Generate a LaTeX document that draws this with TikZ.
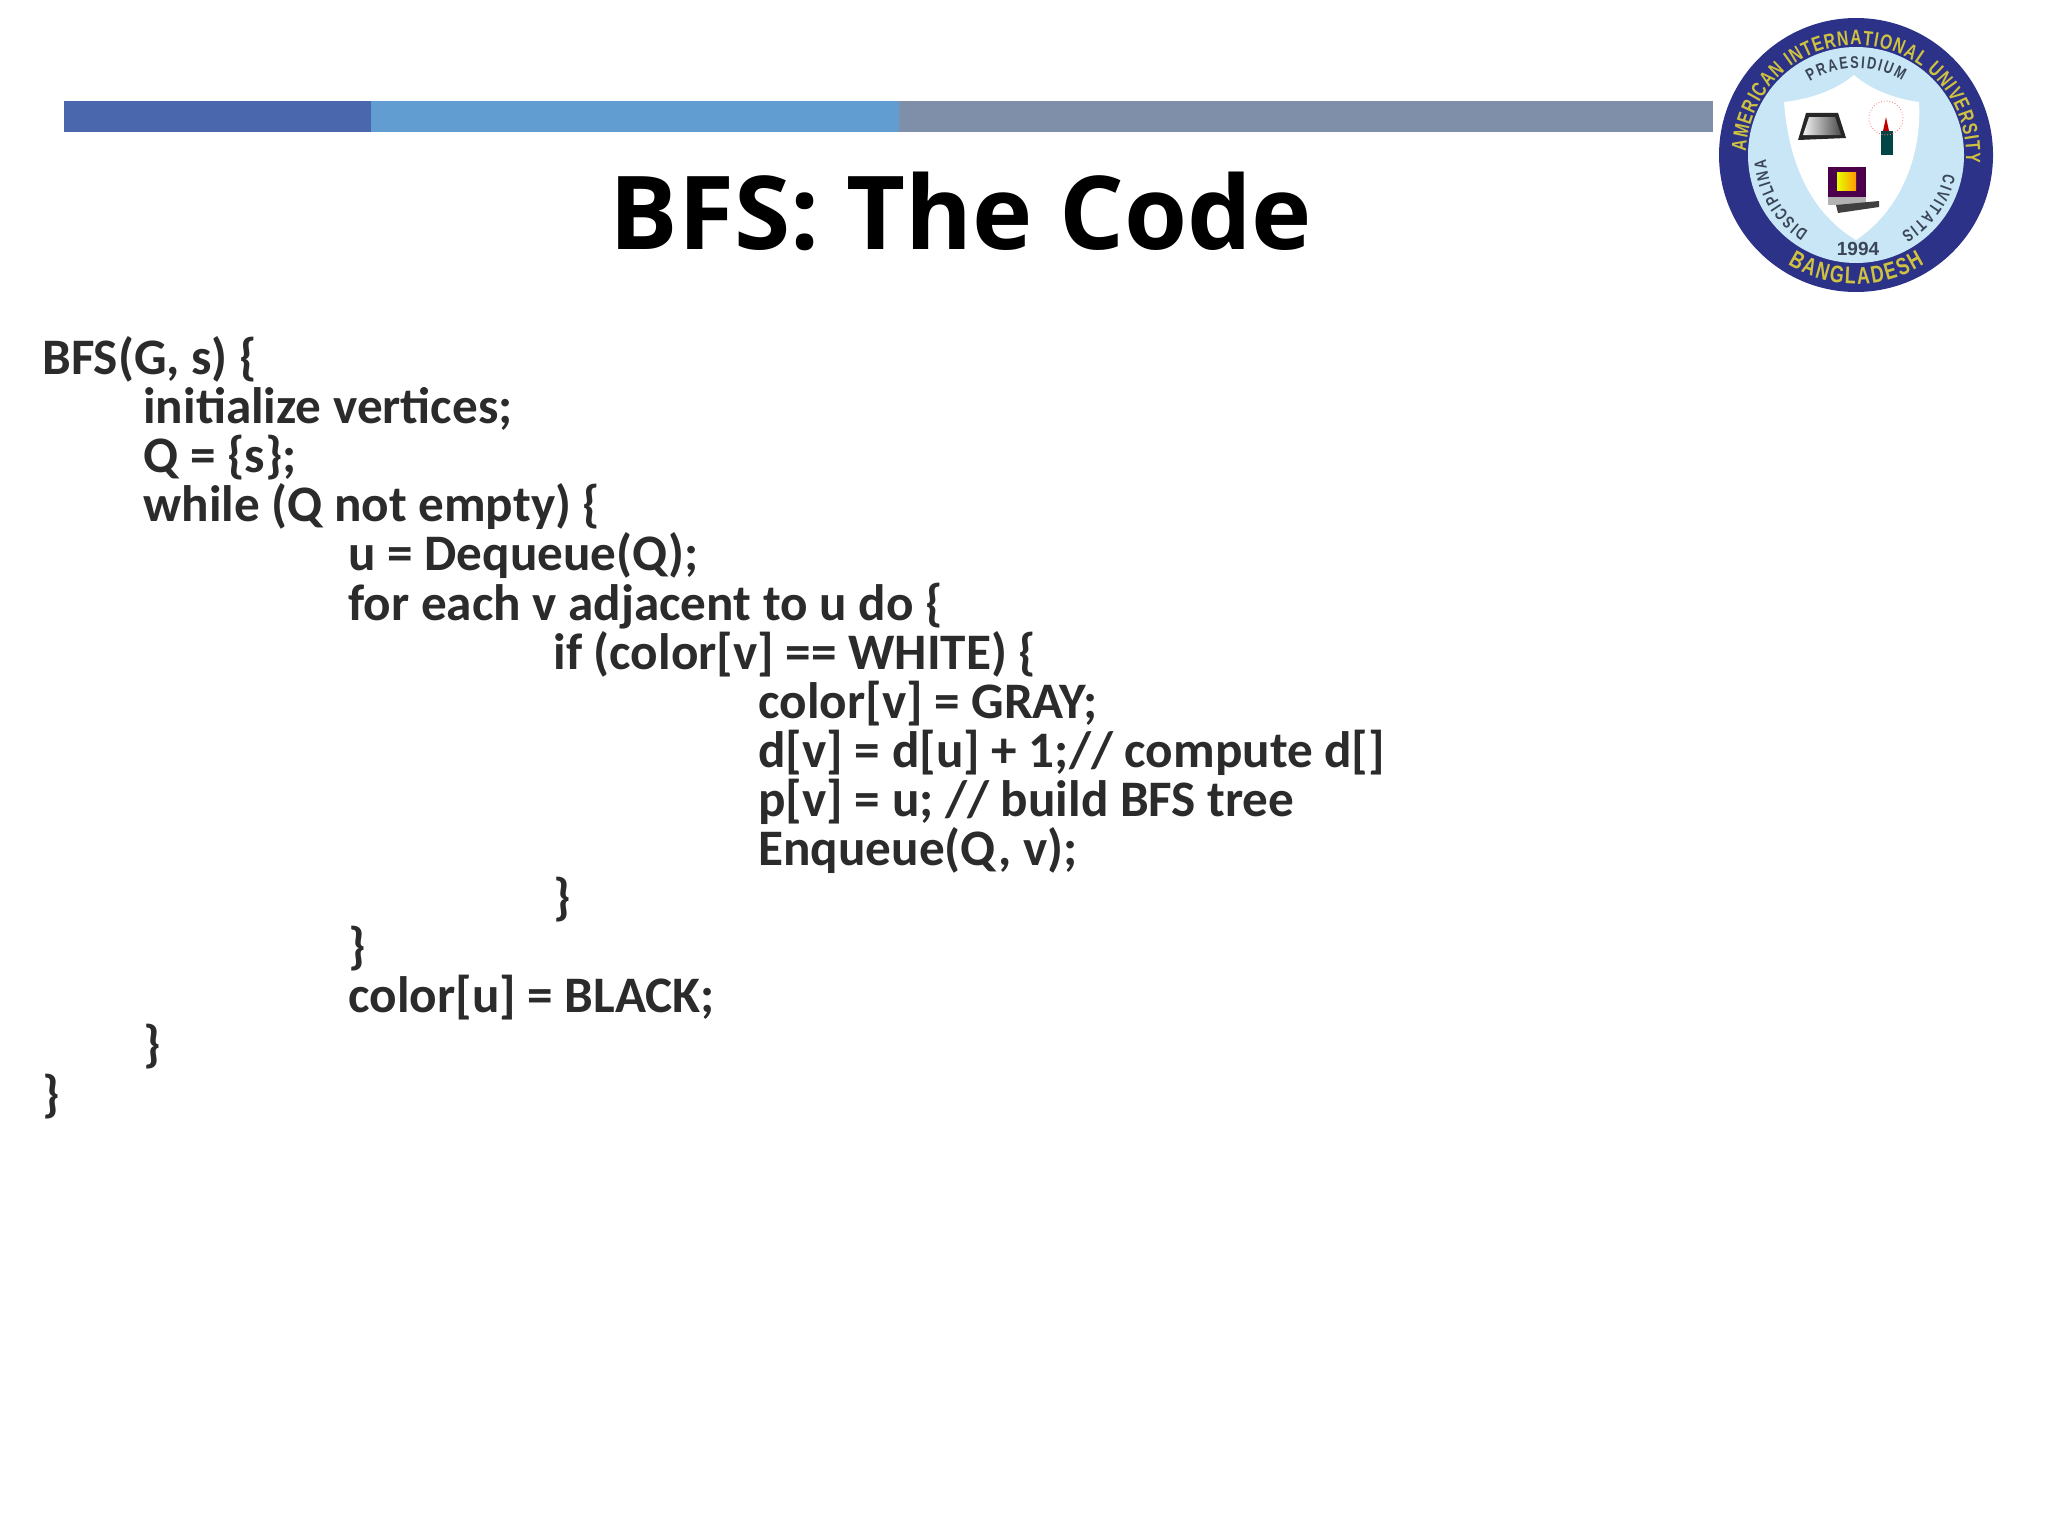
\documentclass[tikz,border=0pt]{standalone}
\usepackage{fontspec}
\setmainfont{Carlito}
\newfontfamily\titlefont{Open Sans}
\newfontfamily\sealfont[FakeStretch=0.75]{Liberation Sans}
\newfontfamily\yearfont{Liberation Sans}
\usetikzlibrary{decorations.text}
\definecolor{barblue}{HTML}{4A66AC}
\definecolor{barsky}{HTML}{629DD1}
\definecolor{bargray}{HTML}{7F8FA9}
\definecolor{codegray}{HTML}{2B2B2B}
\definecolor{sealnavy}{HTML}{2B3287}
\definecolor{sealsky}{HTML}{C8E6F6}
\definecolor{sealgold}{HTML}{CFC240}
\definecolor{sealink}{HTML}{3A4658}
\tikzset{
    codeline/.style={anchor=base west,inner sep=0pt,text=codegray,font=\fontsize{25.6}{30}\selectfont\bfseries},
    sealtext/.style 2 args={postaction={decorate},decoration={text along path,text align={fit to path},
        text={|\sealfont\bfseries\fontsize{#1}{#1}\selectfont\color{sealgold}|#2}}},
    sealsmall/.style={postaction={decorate},decoration={text along path,text align={fit to path},
        text={|\sealfont\bfseries\fontsize{8.5}{8.5}\selectfont\color{sealink}|#1}}},
}
\begin{document}
\begin{tikzpicture}[x=0.5pt,y=0.5pt]
    \useasboundingbox (0,0) rectangle (2048,-1536);
    %% header bar
    \fill[barblue] (64,-101) rectangle (371,-132);
    \fill[barsky] (371,-101) rectangle (899,-132);
    \fill[bargray] (899,-101) rectangle (1713,-132);
    %% title
    \node[anchor=base,inner sep=0pt,font=\titlefont\bfseries\fontsize{51}{60}\selectfont] (title) at (961,-249) {BFS: The Code};
    %% code lines
    \node[codeline] (line1) at (42,-374.5) {BFS(G, s) \{};
    \node[codeline] (line2) at (143,-423.6) {initialize vertices;};
    \node[codeline] (line3) at (143,-472.7) {Q = \{s\};};
    \node[codeline] (line4) at (143,-521.8) {while (Q not empty) \{};
    \node[codeline] (line5) at (348,-570.9) {u = Dequeue(Q);};
    \node[codeline] (line6) at (348,-620) {for each v adjacent to u do \{};
    \node[codeline] (line7) at (553,-669.1) {if (color[v] == WHITE) \{};
    \node[codeline] (line8) at (758,-718.2) {color[v] = GRAY;};
    \node[codeline] (line9) at (758,-767.3) {d[v] = d[u] + 1;// compute d[]};
    \node[codeline] (line10) at (758,-816.4) {p[v] = u; // build BFS tree};
    \node[codeline] (line11) at (758,-865.5) {Enqueue(Q, v);};
    \node[codeline] (line12) at (553,-914.6) {\}};
    \node[codeline] (line13) at (348,-963.7) {\}};
    \node[codeline] (line14) at (348,-1012.8) {color[u] = BLACK;};
    \node[codeline] (line15) at (143,-1061.9) {\}};
    \node[codeline] (line16) at (42,-1111) {\}};
    %% seal
    \begin{scope}[shift={(1856,-155)}]
        \fill[sealnavy] (0,0) circle (137);
        \fill[sealsky] (0,0) circle (108);
        %% shield
        \fill[white] (-2,80) .. controls (-20,65) and (-45,56) .. (-72,53)
            .. controls (-68,0) and (-50,-55) .. (0,-85)
            .. controls (45,-55) and (66,0) .. (63,53)
            .. controls (40,56) and (15,65) .. (-2,80) -- cycle;
        %% ring texts
        \path[sealtext={10.4}{AMERICAN INTERNATIONAL UNIVERSITY}] (178:110) arc (178:-4:110);
        \path[sealtext={12}{BANGLADESH}] (-122:129) arc (-122:-58:129);
        \path[sealsmall={PRAESIDIUM}] (122:87) arc (122:58:87);
        \path[sealsmall={DISCIPLINA}] (-122:90) arc (-122:-177:90);
        \path[sealsmall={CIVITATIS}] (-12:90) arc (-12:-60:90);
        \node[text=sealink,font=\yearfont\bfseries\fontsize{9.5}{12}\selectfont] (year) at (2,-94) {1994};
        %% book
        \fill[gray!30!black] (-50,42) -- (-18,42) -- (-10,17) -- (-58,15) -- cycle;
        \shade[left color=gray!10,right color=gray!60!black] (-47,38) -- (-21,38) -- (-15,20) -- (-53,20) -- cycle;
        %% candle
        \fill[teal!55!black] (25,24) rectangle (37,0);
        \fill[red!75!black] (30,38) -- (33,24) -- (27,24) -- cycle;
        \draw[red!55,densely dotted] (30,37) circle (17);
        %% computer
        \fill[gray!60] (-28,-42) rectangle (10,-50);
        \fill[black!75] (-20,-50) -- (23,-46) -- (23,-52) -- (-18,-58) -- cycle;
        \fill[violet!60!black] (-28,-12) rectangle (10,-42);
        \shade[left color=yellow!90!green,right color=orange!80!yellow] (-19,-17) rectangle (0,-35);
    \end{scope}
\end{tikzpicture}
\end{document}
